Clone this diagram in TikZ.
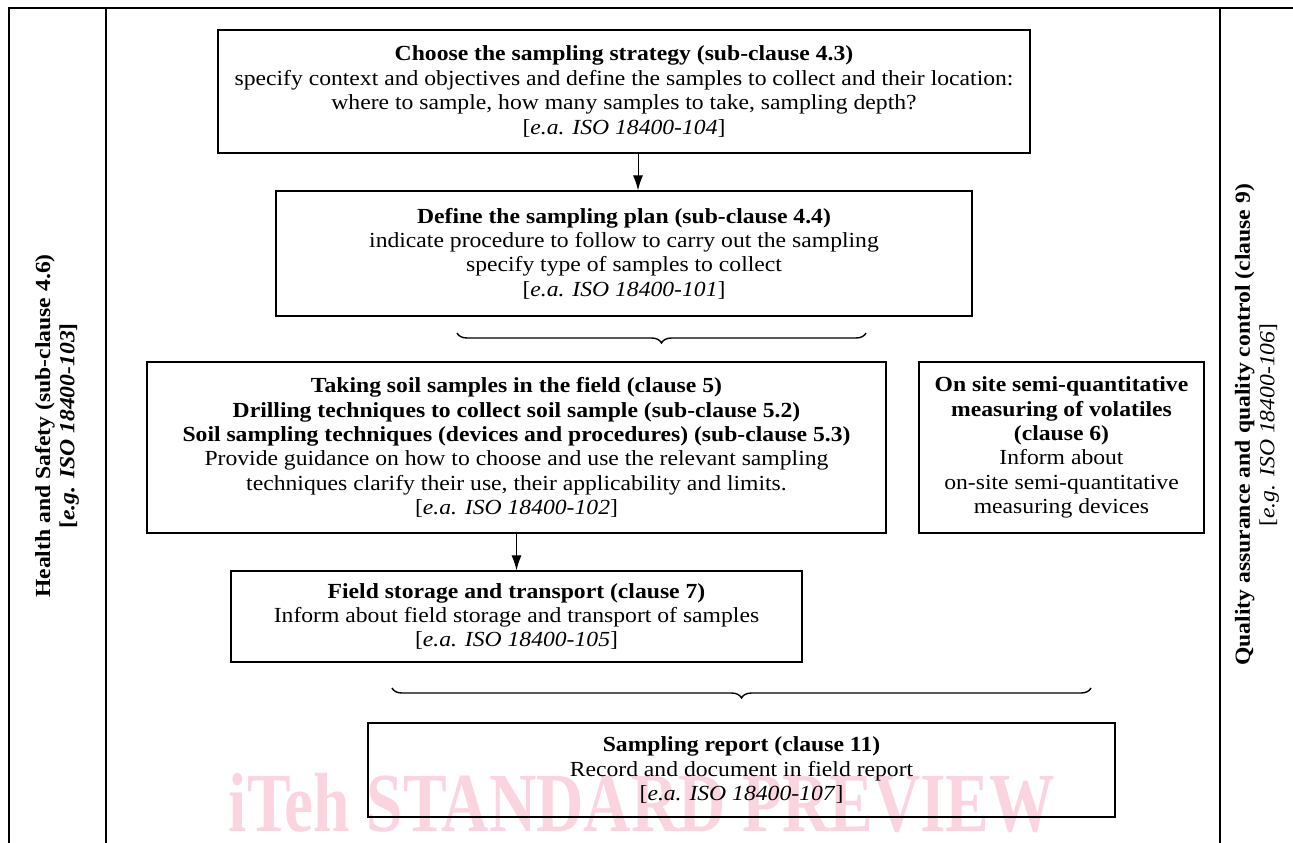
\documentclass[tikz,border=0pt]{standalone}
\usepackage{fontspec}
\setmainfont[FakeStretch=1.1]{Liberation Serif}
\newfontfamily\wmfont{Liberation Serif}
\usetikzlibrary{decorations.pathreplacing,arrows.meta}
\definecolor{wm}{RGB}{250,212,222}
\tikzset{
  box/.style={draw, line width=1.3pt, align=center, inner sep=0pt, font=\fontsize{21.5}{24.4}\selectfont},
  arr/.style={line width=1pt, -{Latex[length=15pt,width=10pt]}},
  frame/.style={line width=1.6pt},
  brc/.style={line width=1.4pt, decorate, decoration={brace, mirror, amplitude=10pt}},
  side/.style={rotate=90, align=center, font=\fontsize{21.5}{24.4}\selectfont}
}
\begin{document}
\begin{tikzpicture}[x=1pt,y=-1pt]
\useasboundingbox (0,0) rectangle (1293,843);
% watermark
\node[text=wm, font=\wmfont\fontsize{84}{84}\selectfont\bfseries, xscale=0.78, inner sep=0] (wmark) at (642,803) {iTeh STANDARD PREVIEW};
% frame
\coordinate (tl) at (9,8);
\coordinate (tr) at (1293,8);
\coordinate (bl) at (9,843);
\coordinate (d1t) at (106,8);
\coordinate (d1b) at (106,843);
\coordinate (d2t) at (1220,8);
\coordinate (d2b) at (1220,843);
\draw[frame] (bl) -- (tl) -- (tr);
\draw[frame] (d1t) -- (d1b);
\draw[frame] (d2t) -- (d2b);
% side texts
\node[side] (hs) at (57,426) {\bfseries Health and Safety (sub-clause 4.6)\\ \bfseries [\textit{e.g. ISO 18400-103}]};
\node[side] (qa) at (1257,425) {\bfseries Quality assurance and quality control (clause 9)\\ {}[\textit{e.g. ISO 18400-106}]};
% boxes
\node[box, minimum width=812, minimum height=123] (b1) at (624,91.5) {\textbf{Choose the sampling strategy (sub-clause 4.3)}\\ specify context and objectives and define the samples to collect and their location:\\ where to sample, how many samples to take, sampling depth?\\ {}[\textit{e.a. ISO 18400-104}]};
\node[box, minimum width=696, minimum height=125] (b2) at (624,253.5) {\textbf{Define the sampling plan (sub-clause 4.4)}\\ indicate procedure to follow to carry out the sampling\\ specify type of samples to collect\\ {}[\textit{e.a. ISO 18400-101}]};
\node[box, minimum width=739, minimum height=171] (b3) at (516.5,447.5) {\textbf{Taking soil samples in the field (clause 5)}\\ \textbf{Drilling techniques to collect soil sample (sub-clause 5.2)}\\ \textbf{Soil sampling techniques (devices and procedures) (sub-clause 5.3)}\\ Provide guidance on how to choose and use the relevant sampling\\ techniques clarify their use, their applicability and limits.\\ {}[\textit{e.a. ISO 18400-102}]};
\node[box, minimum width=285, minimum height=171] (b4) at (1061.5,447.5) {\textbf{On site semi-quantitative}\\ \textbf{measuring of volatiles}\\ \textbf{(clause 6)}\\ Inform about\\ on-site semi-quantitative\\ measuring devices};
\node[box, minimum width=571, minimum height=91] (b5) at (516.5,616.5) {\textbf{Field storage and transport (clause 7)}\\ Inform about field storage and transport of samples\\ {}[\textit{e.a. ISO 18400-105}]};
\node[box, minimum width=747, minimum height=94] (b6) at (741.5,770) {\textbf{Sampling report (clause 11)}\\ Record and document in field report\\ {}[\textit{e.a. ISO 18400-107}]};
% arrows
\draw[arr] ([xshift=14pt]b1.south) -- ([xshift=14pt]b1.south |- b2.north);
\draw[arr] (b3.south) -- (b3.south |- b5.north);
% braces
\coordinate (br1a) at (457,333);
\coordinate (br1b) at (866,333);
\coordinate (br2a) at (392,688);
\coordinate (br2b) at (1091,688);
\draw[brc] (br1a) -- (br1b);
\draw[brc] (br2a) -- (br2b);
\end{tikzpicture}
\end{document}
